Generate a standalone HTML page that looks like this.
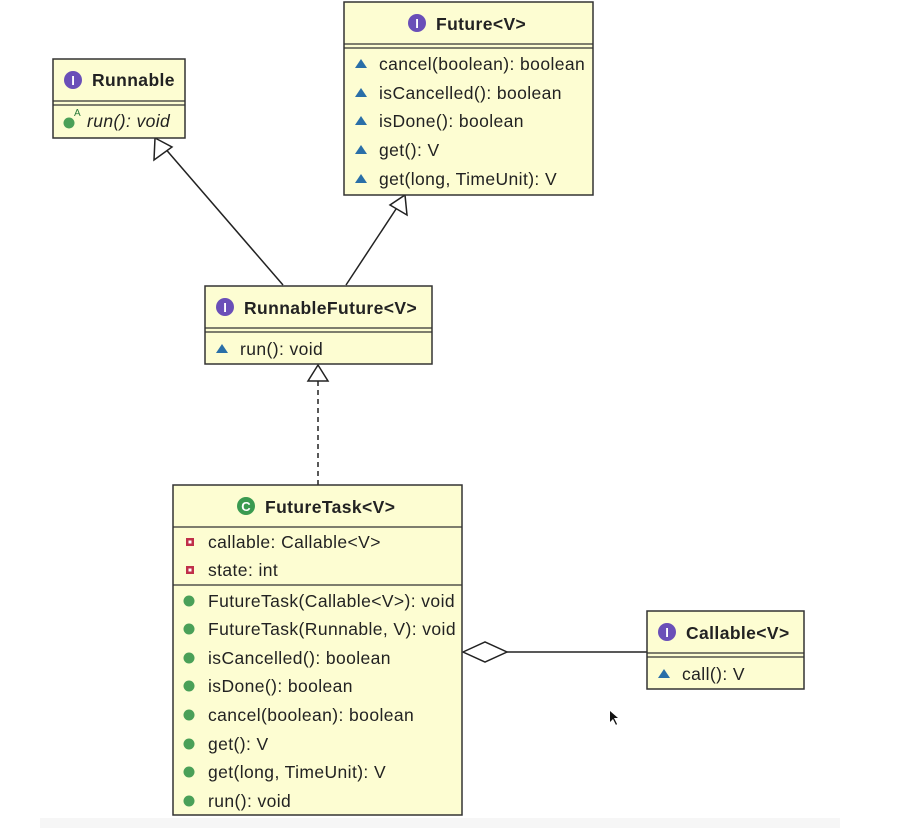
<!DOCTYPE html>
<html><head><meta charset="utf-8"><style>
html,body{margin:0;padding:0;background:#fff;width:905px;height:828px;overflow:hidden}
svg{display:block}
text{font-family:"Liberation Sans",sans-serif;font-size:17.5px;letter-spacing:0.4px;fill:#222}
.b{font-weight:bold}
</style></head><body>
<svg width="905" height="828" viewBox="0 0 905 828">
<defs>
<g id="iI"><circle r="9" fill="#6a4fb8"/><text x="0" y="5" text-anchor="middle" style="font-size:13px;font-weight:bold;fill:#fff;letter-spacing:0">I</text></g>
<g id="tri"><polygon points="0,-5 6,4 -6,4" fill="#2a6fa8"/></g>
<g id="dot"><circle r="5.5" fill="#4aa058"/></g>
<g id="sq"><rect x="-4" y="-4" width="8" height="8" fill="#c0304a"/><rect x="-1.5" y="-1.5" width="3" height="3" fill="#fff"/></g>
</defs>
<rect x="40" y="818" width="800" height="10" fill="#f6f6f6"/>
<g stroke="#222" stroke-width="1.5" fill="none">
<line x1="283" y1="285" x2="163" y2="146"/>
<line x1="346" y1="285" x2="398" y2="206"/>
<line x1="318" y1="485" x2="318" y2="380" stroke-dasharray="5,4"/>
<line x1="507" y1="652" x2="647" y2="652"/>
</g>
<g stroke="#222" stroke-width="1.5" fill="#fff">
<polygon points="155,138 172,147 154,160"/>
<polygon points="405,195 407,215 390,205"/>
<polygon points="318,365 328,381 308,381"/>
<polygon points="463,652 485,642 507,652 485,662"/>
</g>
<g fill="#fdfdd2" stroke="#333" stroke-width="1.5">
<rect x="53" y="59" width="132" height="79"/>
<rect x="344" y="2" width="249" height="193"/>
<rect x="205" y="286" width="227" height="78"/>
<rect x="173" y="485" width="289" height="330"/>
<rect x="647" y="611" width="157" height="78"/>
</g>
<g stroke="#333" stroke-width="1.3">
<line x1="53" y1="101" x2="185" y2="101"/><line x1="53" y1="105" x2="185" y2="105"/>
<line x1="344" y1="44" x2="593" y2="44"/><line x1="344" y1="48" x2="593" y2="48"/>
<line x1="205" y1="328" x2="432" y2="328"/><line x1="205" y1="332" x2="432" y2="332"/>
<line x1="173" y1="527" x2="462" y2="527"/><line x1="173" y1="585" x2="462" y2="585"/>
<line x1="647" y1="653" x2="804" y2="653"/><line x1="647" y1="657" x2="804" y2="657"/>
</g>
<use href="#iI" x="73" y="80"/><text class="b" x="92" y="86">Runnable</text>
<use href="#dot" x="69" y="123"/><text x="74" y="116" style="font-size:10px;fill:#2a7a3a">A</text>
<text x="87" y="127" style="font-style:italic">run(): void</text>
<use href="#iI" x="417" y="23"/><text class="b" x="436" y="30">Future&lt;V&gt;</text>
<use href="#tri" x="361" y="64"/><text x="379" y="70">cancel(boolean): boolean</text>
<use href="#tri" x="361" y="93"/><text x="379" y="99">isCancelled(): boolean</text>
<use href="#tri" x="361" y="121"/><text x="379" y="127">isDone(): boolean</text>
<use href="#tri" x="361" y="150"/><text x="379" y="156">get(): V</text>
<use href="#tri" x="361" y="179"/><text x="379" y="185">get(long, TimeUnit): V</text>
<use href="#iI" x="225" y="307"/><text class="b" x="244" y="314">RunnableFuture&lt;V&gt;</text>
<use href="#tri" x="222" y="349"/><text x="240" y="355">run(): void</text>
<circle cx="246" cy="506" r="9" fill="#3a9a50"/><text x="246" y="511" text-anchor="middle" style="font-size:13px;font-weight:bold;fill:#fff;letter-spacing:0">C</text>
<text class="b" x="265" y="513">FutureTask&lt;V&gt;</text>
<use href="#sq" x="190" y="542"/><text x="208" y="548">callable: Callable&lt;V&gt;</text>
<use href="#sq" x="190" y="570"/><text x="208" y="576">state: int</text>
<use href="#dot" x="189" y="601"/><text x="208" y="607">FutureTask(Callable&lt;V&gt;): void</text>
<use href="#dot" x="189" y="629"/><text x="208" y="635">FutureTask(Runnable, V): void</text>
<use href="#dot" x="189" y="658"/><text x="208" y="664">isCancelled(): boolean</text>
<use href="#dot" x="189" y="686"/><text x="208" y="692">isDone(): boolean</text>
<use href="#dot" x="189" y="715"/><text x="208" y="721">cancel(boolean): boolean</text>
<use href="#dot" x="189" y="744"/><text x="208" y="750">get(): V</text>
<use href="#dot" x="189" y="772"/><text x="208" y="778">get(long, TimeUnit): V</text>
<use href="#dot" x="189" y="801"/><text x="208" y="807">run(): void</text>
<use href="#iI" x="667" y="632"/><text class="b" x="686" y="639">Callable&lt;V&gt;</text>
<use href="#tri" x="664" y="674"/><text x="682" y="680">call(): V</text>
<polygon points="610,711 610,722 613,719 616,725 617,724 614,718 618,718" fill="#111"/>
</svg>
</body></html>
